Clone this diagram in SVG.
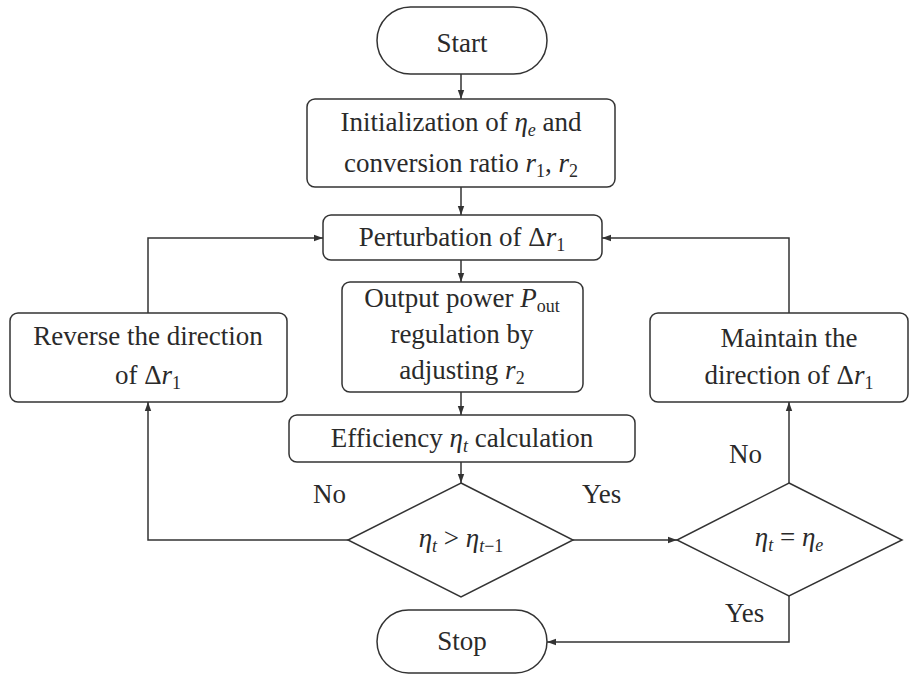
<svg xmlns="http://www.w3.org/2000/svg" width="917" height="674" viewBox="0 0 917 674">
<style>
.n{fill:#fff;stroke:#333;stroke-width:1.5}
.t{font-size:27px;fill:#2a2a2a;text-anchor:middle}
.l{font-size:27px;fill:#2a2a2a}
.i{font-style:italic}
.s{font-size:18px}
.c{fill:none;stroke:#333;stroke-width:1.5}
</style>
<defs>
<marker id="a" markerWidth="10" markerHeight="8" refX="9" refY="4" orient="auto" markerUnits="userSpaceOnUse">
<path d="M0,0.8 L9,4 L0,7.2 Z" fill="#333"/>
</marker>
</defs>
<g font-family="Liberation Serif, Tinos, Times New Roman, DejaVu Serif, serif">
<g id="connectors">
<path class="c" d="M461,74 V99" marker-end="url(#a)"/>
<path class="c" d="M461,187 V215" marker-end="url(#a)"/>
<path class="c" d="M461,260 V282" marker-end="url(#a)"/>
<path class="c" d="M461,392 V415" marker-end="url(#a)"/>
<path class="c" d="M461,462 V483" marker-end="url(#a)"/>
<path class="c" d="M348,540 H148 V402" marker-end="url(#a)"/>
<path class="c" d="M148,313 V238 H323" marker-end="url(#a)"/>
<path class="c" d="M573,540 H677" marker-end="url(#a)"/>
<path class="c" d="M789,483 V402" marker-end="url(#a)"/>
<path class="c" d="M789,313 V238 H602" marker-end="url(#a)"/>
<path class="c" d="M789,596 V642 H547" marker-end="url(#a)"/>
</g>
<g id="start">
<rect class="n" x="377" y="7" width="170" height="67" rx="33.5"/>
<text class="t" x="462" y="52">Start</text>
</g>
<g id="init">
<rect class="n" x="307" y="99" width="308" height="88" rx="8"/>
<text class="t" x="461" y="131">Initialization of <tspan class="i">η</tspan><tspan class="i s" dy="5">e</tspan><tspan dy="-5"> and</tspan></text>
<text class="t" x="461" y="172">conversion ratio <tspan class="i">r</tspan><tspan class="s" dy="5">1</tspan><tspan dy="-5">, </tspan><tspan class="i">r</tspan><tspan class="s" dy="5">2</tspan></text>
</g>
<g id="perturb">
<rect class="n" x="323" y="215" width="279" height="45" rx="8"/>
<text class="t" x="462" y="246">Perturbation of Δ<tspan class="i">r</tspan><tspan class="s" dy="5">1</tspan></text>
</g>
<g id="output">
<rect class="n" x="342" y="282" width="241" height="110" rx="8"/>
<text class="t" x="462" y="307">Output power <tspan class="i">P</tspan><tspan class="s" dy="5">out</tspan></text>
<text class="t" x="462" y="343">regulation by</text>
<text class="t" x="462" y="379">adjusting <tspan class="i">r</tspan><tspan class="s" dy="5">2</tspan></text>
</g>
<g id="efficiency">
<rect class="n" x="289" y="415" width="346" height="47" rx="8"/>
<text class="t" x="462" y="447">Efficiency <tspan class="i">η</tspan><tspan class="i s" dy="5">t</tspan><tspan dy="-5"> calculation</tspan></text>
</g>
<g id="decision1">
<polygon class="n" points="461,483 573,540 461,597 348,540"/>
<text class="t" x="461" y="547"><tspan class="i">η</tspan><tspan class="i s" dy="5">t</tspan><tspan dy="-5"> &gt; </tspan><tspan class="i">η</tspan><tspan class="i s" dy="5">t</tspan><tspan class="s">−1</tspan></text>
</g>
<g id="reverse">
<rect class="n" x="10" y="313" width="277" height="89" rx="8"/>
<text class="t" x="148" y="345">Reverse the direction</text>
<text class="t" x="148" y="384">of Δ<tspan class="i">r</tspan><tspan class="s" dy="5">1</tspan></text>
</g>
<g id="maintain">
<rect class="n" x="650" y="313" width="258" height="89" rx="8"/>
<text class="t" x="789" y="347">Maintain the</text>
<text class="t" x="789" y="384">direction of Δ<tspan class="i">r</tspan><tspan class="s" dy="5">1</tspan></text>
</g>
<g id="decision2">
<polygon class="n" points="789,483 902,540 789,596 677,540"/>
<text class="t" x="789" y="546"><tspan class="i">η</tspan><tspan class="i s" dy="5">t</tspan><tspan dy="-5"> = </tspan><tspan class="i">η</tspan><tspan class="i s" dy="5">e</tspan></text>
</g>
<g id="stop">
<rect class="n" x="377" y="610" width="170" height="63" rx="31.5"/>
<text class="t" x="462" y="650">Stop</text>
</g>
<g id="labels">
<text class="l" x="313" y="503">No</text>
<text class="l" x="582" y="503">Yes</text>
<text class="l" x="729" y="463">No</text>
<text class="l" x="725" y="622">Yes</text>
</g>
</g>
</svg>
